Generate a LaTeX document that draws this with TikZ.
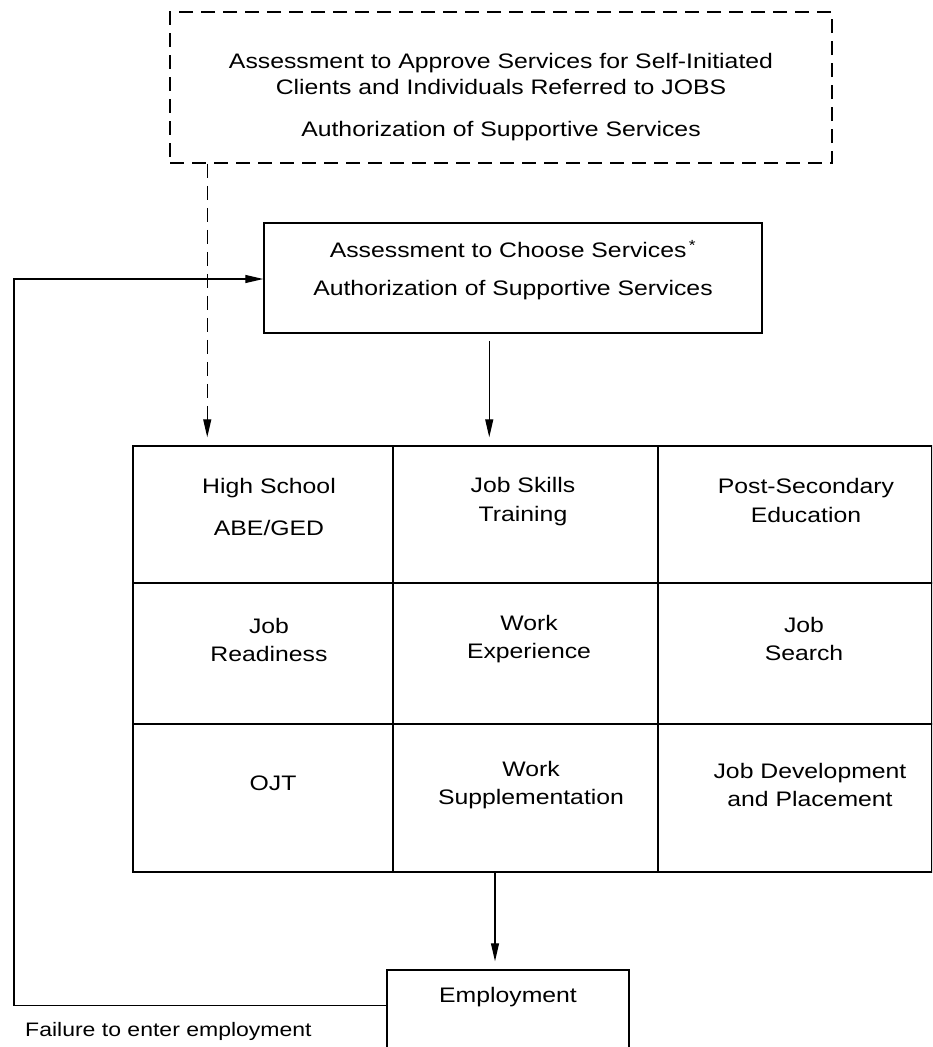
\documentclass[tikz,border=0pt]{standalone}
\usepackage{fontspec}
\setmainfont{Liberation Sans}
\newfontfamily\wfont[FakeStretch=1.18]{Liberation Sans}
\usetikzlibrary{arrows.meta,calc}
\begin{document}
\begin{tikzpicture}[x=1pt,y=-1pt,
  txt/.style={font=\wfont\fontsize{21}{26}\selectfont, align=center, inner sep=0pt},
  smalltxt/.style={font=\wfont\fontsize{19.5}{22}\selectfont, inner sep=0pt},
  boxline/.style={draw, line width=1.5pt, inner sep=0pt},
  cell/.style={draw, line width=1.5pt, inner sep=0pt},
  dashbox/.style={draw, line width=1.5pt, inner sep=0pt, dash pattern=on 14pt off 8pt},
  arr/.style={line width=1.2pt, -{Triangle[length=18pt,width=8pt]}},
  darr/.style={line width=1.2pt, dash pattern=on 14pt off 8pt, -{Triangle[length=18pt,width=8pt]}}
]
\useasboundingbox (0,0) rectangle (932,1047);
\clip (0,0) rectangle (932,1047);

% top dashed box
\node[dashbox, minimum width=662pt, minimum height=151pt] (approve) at (501,87.5) {};
\node[txt] (approvetxt) at (501,97) {Assessment to Approve Services for Self-Initiated\\Clients and Individuals Referred to JOBS\\[16pt]Authorization of Supportive Services};

% choose box
\node[boxline, minimum width=498pt, minimum height=110pt] (choose) at (513,278) {};
\node[txt] (choosetxt) at (513,270) {Assessment to Choose Services\textsuperscript{\,*}\\[12pt]Authorization of Supportive Services};

% grid
\node[cell, minimum width=260pt, minimum height=137pt] (c11) at (263,514.5) {};
\node[cell, minimum width=265pt, minimum height=137pt] (c12) at (525.5,514.5) {};
\node[cell, minimum width=274pt, minimum height=137pt] (c13) at (795,514.5) {};
\node[cell, minimum width=260pt, minimum height=141pt] (c21) at (263,653.5) {};
\node[cell, minimum width=265pt, minimum height=141pt] (c22) at (525.5,653.5) {};
\node[cell, minimum width=274pt, minimum height=141pt] (c23) at (795,653.5) {};
\node[cell, minimum width=260pt, minimum height=148pt] (c31) at (263,798) {};
\node[cell, minimum width=265pt, minimum height=148pt] (c32) at (525.5,798) {};
\node[cell, minimum width=274pt, minimum height=148pt] (c33) at (795,798) {};

\node[txt] (t11) at (269,507) {High School\\[16pt]ABE/GED};
\node[txt] (t12) at (523,502) {Job Skills\\[3pt]Training};
\node[txt] (t13) at (806,500) {Post-Secondary\\[3pt]Education};
\node[txt] (t21) at (269,640) {Job\\[2pt]Readiness};
\node[txt] (t22) at (529,639) {Work\\[2pt]Experience};
\node[txt] (t23) at (804,639) {Job\\[2pt]Search};
\node[txt] (t31) at (273,783) {OJT};
\node[txt] (t32) at (531,785) {Work\\[2pt]Supplementation};
\node[txt] (t33) at (810,785) {Job Development\\[2pt]and Placement};

% employment
\node[boxline, minimum width=242pt, minimum height=100pt] (emp) at (508,1020) {};
\node[txt] (emptxt) at (508,997) {Employment};

\node[smalltxt, anchor=west] (fail) at (25,1031) {Failure to enter employment};

% connectors
\coordinate (dashtop) at ($(approve.south west)+(38,0)$);
\coordinate (dashend) at ($(c11.north west)+(75,0)$);
\draw[darr, shorten >=8pt] (dashtop) -- (dashend);
\coordinate (chooseout) at ($(choose.south west)+(226,0)$);
\draw[arr, shorten <=7pt, shorten >=8pt] (chooseout) -- (chooseout |- c12.north);
\coordinate (empin) at ($(emp.north)+(-13,0)$);
\draw[arr, shorten >=8pt] (empin |- c32.south) -- (empin);
\coordinate (fbT) at (14,279);
\coordinate (fbS) at ($(emp.north west)+(0,36)$);
\draw[arr] (fbS) -| (fbT) -- (fbT -| choose.west);
\end{tikzpicture}
\end{document}
